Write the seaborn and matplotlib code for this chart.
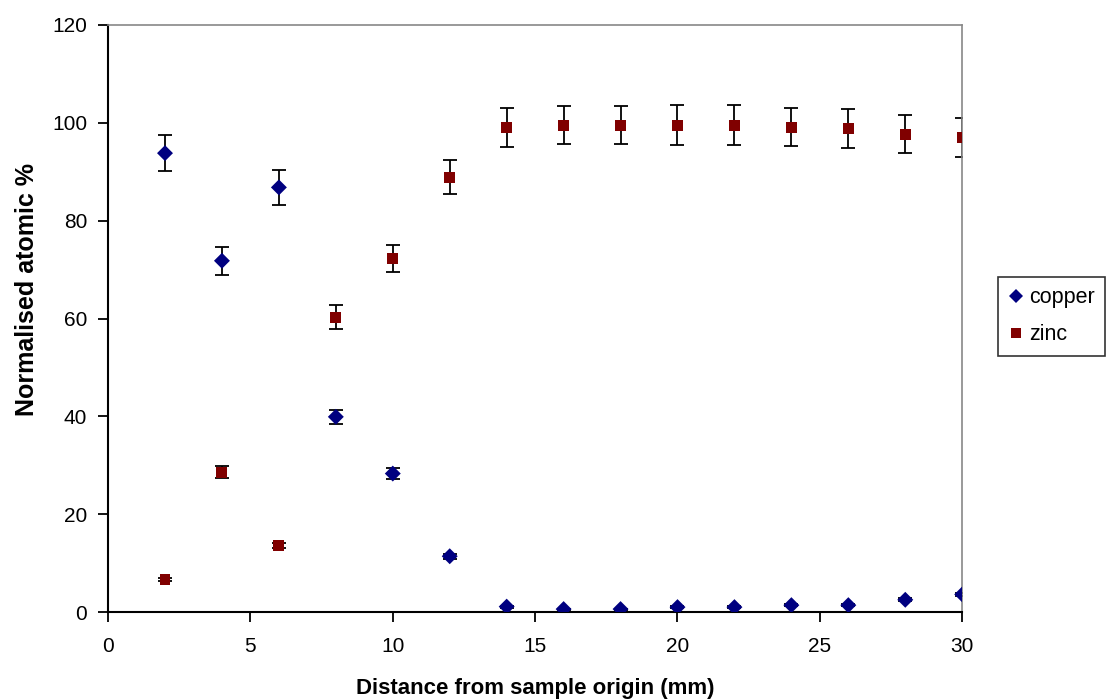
import numpy as np
import pandas as pd
import matplotlib
matplotlib.use("Agg")
import matplotlib.pyplot as plt
import seaborn as sns

# --- data ---
distance = [2, 4, 6, 8, 10, 12, 14, 16, 18, 20, 22, 24, 26, 28, 30]
copper = [93.8, 71.8, 86.8, 39.9, 28.3, 11.4, 1.1, 0.6, 0.6, 1.0, 1.0, 1.4, 1.4, 2.5, 3.6]
copper_err = [3.7, 2.9, 3.5, 1.4, 1.1, 0.5, 0.2, 0.1, 0.1, 0.2, 0.2, 0.2, 0.2, 0.3, 0.3]
zinc = [6.6, 28.6, 13.6, 60.3, 72.3, 88.9, 99.0, 99.5, 99.5, 99.5, 99.5, 99.1, 98.8, 97.7, 97.0]
zinc_err = [0.3, 1.2, 0.5, 2.4, 2.7, 3.5, 4.0, 3.9, 3.9, 4.1, 4.1, 3.9, 4.0, 3.8, 3.9]

df = pd.DataFrame({
    'Distance': distance * 2,
    'Percent': copper + zinc,
    'Err': copper_err + zinc_err,
    'Element': ['copper'] * len(distance) + ['zinc'] * len(distance),
})

sns.set_theme(style='white')
plt.rcParams['font.family'] = ['Liberation Sans', 'DejaVu Sans']
plt.rcParams['text.color'] = 'black'
plt.rcParams['axes.labelcolor'] = 'black'
plt.rcParams['xtick.color'] = 'black'
plt.rcParams['ytick.color'] = 'black'

fig = plt.figure(figsize=(11.06, 7.0), dpi=100)
ax = fig.add_axes([0.0977, 0.1257, 0.7723, 0.8386])

# error bars underneath the markers
for el in ['copper', 'zinc']:
    sub = df[df['Element'] == el]
    ax.errorbar(sub['Distance'], sub['Percent'], yerr=sub['Err'], fmt='none',
                ecolor='black', elinewidth=1.3, capsize=4.7, capthick=1.3, zorder=2)

sns.scatterplot(data=df, x='Distance', y='Percent', hue='Element', style='Element',
                palette={'copper': '#000080', 'zinc': '#800000'},
                markers={'copper': 'D', 'zinc': 's'},
                size='Element', sizes={'copper': 66, 'zinc': 62},
                edgecolor='none', linewidth=0, ax=ax, zorder=3, legend='full')

ax.set_xlim(0, 30)
ax.set_ylim(0, 120)
ax.set_xticks(range(0, 31, 5))
ax.set_yticks(range(0, 121, 20))
ax.tick_params(axis='both', which='major', labelsize=15, direction='out',
               length=7, width=1.3, color='black', bottom=True, left=True)
ax.tick_params(axis='x', pad=11)
ax.tick_params(axis='y', pad=8)
ax.set_xlabel('Distance from sample origin (mm)', fontsize=16, fontweight='bold')
ax.set_ylabel('Normalised atomic %', fontsize=18, fontweight='bold')
ax.xaxis.set_label_coords(0.5, -0.113)
ax.yaxis.set_label_coords(-0.081, 0.55)

for side in ['left', 'bottom']:
    ax.spines[side].set_color('black')
    ax.spines[side].set_linewidth(1.5)
for side in ['top', 'right']:
    ax.spines[side].set_color('#888888')
    ax.spines[side].set_linewidth(1.2)

# legend boxed to the right of the plot area
handles, labels = ax.get_legend_handles_labels()
for h in handles:
    h.set_markersize(7.5)
leg = ax.legend(handles, labels, loc='center left', bbox_to_anchor=(0.902, 0.548),
                bbox_transform=fig.transFigure, frameon=True, fontsize=15.5,
                handlelength=0.7, handletextpad=0.25, borderpad=0.5,
                labelspacing=0.75, borderaxespad=0, fancybox=False)
leg.get_frame().set_edgecolor('black')
leg.get_frame().set_linewidth(1.2)

fig.savefig('out.png', dpi=100)
